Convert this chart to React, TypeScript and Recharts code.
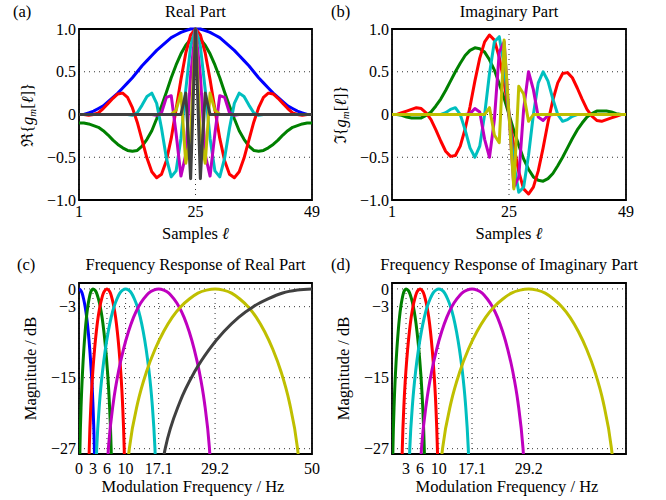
import React from 'react';
import { LineChart, Line, XAxis, YAxis, CartesianGrid, ReferenceArea } from 'recharts';

const FONT = '"Liberation Serif", "Times New Roman", "DejaVu Serif", serif';

// ---------- time-domain data (samples 1..49) ----------
const samples = [1, 2, 3, 4, 5, 6, 7, 8, 9, 10, 11, 12, 13, 14, 15, 16, 17, 18, 19, 20, 21, 22, 23, 24, 25,
  26, 27, 28, 29, 30, 31, 32, 33, 34, 35, 36, 37, 38, 39, 40, 41, 42, 43, 44, 45, 46, 47, 48, 49];
const sampleTicks = [1, 25, 49];
const timeTicks = [-1, -0.5, 0, 0.5, 1];

const blueRe = [0, 0, 0.02, 0.04, 0.07, 0.1, 0.15, 0.2, 0.25, 0.31, 0.37, 0.43, 0.5, 0.57, 0.63, 0.69, 0.75, 0.8, 0.85, 0.9, 0.93, 0.96, 0.98, 1,
  1,
  1, 0.98, 0.96, 0.93, 0.9, 0.85, 0.8, 0.75, 0.69, 0.63, 0.57, 0.5, 0.43, 0.37, 0.31, 0.25, 0.2, 0.15, 0.1, 0.07, 0.04, 0.02, 0, 0];
const greenRe = [-0.1, -0.1, -0.11, -0.13, -0.15, -0.19, -0.24, -0.3, -0.35, -0.39, -0.42, -0.43, -0.42, -0.37, -0.29, -0.19, -0.05, 0.1, 0.26, 0.43, 0.58, 0.71, 0.81, 0.88,
  0.9,
  0.88, 0.81, 0.71, 0.58, 0.43, 0.26, 0.1, -0.05, -0.19, -0.29, -0.37, -0.42, -0.43, -0.42, -0.39, -0.35, -0.3, -0.24, -0.19, -0.15, -0.13, -0.11, -0.1, -0.1];
const redRe = [0, 0, -0.01, 0, 0.02, 0.07, 0.13, 0.19, 0.24, 0.25, 0.2, 0.08, -0.09, -0.3, -0.51, -0.67, -0.74, -0.7, -0.54, -0.28, 0.06, 0.41, 0.72, 0.93,
  1,
  0.93, 0.72, 0.41, 0.06, -0.28, -0.54, -0.7, -0.74, -0.67, -0.51, -0.3, -0.09, 0.08, 0.2, 0.25, 0.24, 0.19, 0.13, 0.07, 0.02, 0, -0.01, 0, 0];
const cyanRe = [0, 0, 0, 0, 0, 0, 0, 0, 0, 0, 0, -0.01, 0.02, 0.11, 0.21, 0.25, 0.13, -0.16, -0.51, -0.73, -0.66, -0.28, 0.29, 0.8,
  1,
  0.8, 0.29, -0.28, -0.66, -0.73, -0.51, -0.16, 0.13, 0.25, 0.21, 0.11, 0.02, -0.01, 0, 0, 0, 0, 0, 0, 0, 0, 0, 0, 0];
const magentaRe = [0, 0, 0, 0, 0, 0, 0, 0, 0, 0, 0, 0, 0, 0, 0, 0, -0.01, 0.02, 0.2, 0.22, -0.22, -0.72, -0.47, 0.46,
  1,
  0.46, -0.47, -0.72, -0.22, 0.22, 0.2, 0.02, -0.01, 0, 0, 0, 0, 0, 0, 0, 0, 0, 0, 0, 0, 0, 0, 0, 0];
const yellowRe = [0, 0, 0, 0, 0, 0, 0, 0, 0, 0, 0, 0, 0, 0, 0, 0, 0, 0, 0, 0, 0.05, 0.25, -0.57, -0.24,
  1,
  -0.24, -0.57, 0.25, 0.05, 0, 0, 0, 0, 0, 0, 0, 0, 0, 0, 0, 0, 0, 0, 0, 0, 0, 0, 0, 0];
const grayRe = [0, 0, 0, 0, 0, 0, 0, 0, 0, 0, 0, 0, 0, 0, 0, 0, 0, 0, 0, 0, 0, 0, 0.25, -0.75,
  1,
  -0.75, 0.25, 0, 0, 0, 0, 0, 0, 0, 0, 0, 0, 0, 0, 0, 0, 0, 0, 0, 0, 0, 0, 0, 0];

const greenIm = [0, 0, -0.01, -0.03, -0.04, -0.04, -0.04, -0.01, 0.03, 0.1, 0.18, 0.28, 0.39, 0.5, 0.6, 0.69, 0.75, 0.78, 0.77, 0.73, 0.64, 0.52, 0.36, 0.19,
  0,
  -0.19, -0.36, -0.52, -0.64, -0.73, -0.77, -0.78, -0.75, -0.69, -0.6, -0.5, -0.39, -0.28, -0.18, -0.1, -0.03, 0.01, 0.04, 0.04, 0.04, 0.03, 0.01, 0, 0];
const redIm = [0, 0, 0.02, 0.04, 0.06, 0.08, 0.07, 0.02, -0.06, -0.18, -0.31, -0.43, -0.49, -0.48, -0.37, -0.17, 0.09, 0.39, 0.66, 0.85, 0.93, 0.87, 0.67, 0.37,
  0,
  -0.37, -0.67, -0.87, -0.93, -0.85, -0.66, -0.39, -0.09, 0.17, 0.37, 0.48, 0.49, 0.43, 0.31, 0.18, 0.06, -0.02, -0.07, -0.08, -0.06, -0.04, -0.02, 0, 0];
const cyanIm = [0, 0, 0, 0, 0, 0, 0, 0, 0, 0, 0, 0.02, 0.06, 0.08, 0, -0.18, -0.39, -0.5, -0.37, 0, 0.48, 0.85, 0.91, 0.58,
  0,
  -0.58, -0.91, -0.85, -0.48, 0, 0.37, 0.5, 0.39, 0.18, 0, -0.08, -0.06, -0.02, 0, 0, 0, 0, 0, 0, 0, 0, 0, 0, 0];
const magentaIm = [0, 0, 0, 0, 0, 0, 0, 0, 0, 0, 0, 0, 0, 0, 0, 0, 0.01, 0.07, 0.03, -0.29, -0.5, -0.06, 0.73, 0.85,
  0,
  -0.85, -0.73, 0.06, 0.5, 0.29, -0.03, -0.07, -0.01, 0, 0, 0, 0, 0, 0, 0, 0, 0, 0, 0, 0, 0, 0, 0, 0];
const yellowIm = [0, 0, 0, 0, 0, 0, 0, 0, 0, 0, 0, 0, 0, 0, 0, 0, 0, 0, 0, 0, 0.08, -0.24, -0.33, 0.87,
  0,
  -0.87, 0.33, 0.24, -0.08, 0, 0, 0, 0, 0, 0, 0, 0, 0, 0, 0, 0, 0, 0, 0, 0, 0, 0, 0, 0];

// ---------- frequency responses ----------
const freqTicksRe = [0, 3, 6, 10, 17.1, 29.2, 50];
const freqTicksIm = [3, 6, 10, 17.1, 29.2];
const dbTicks = [-27, -15, -3, 0];
// magnitude levels (dB) read along each lobe: rising flank, peak, falling flank
const dbLevels = [-34, -27, -19.1, -14, -10.2, -7.2, -4.8, -3, -1.7, -0.7, -0.2, 0,
  -0.2, -0.7, -1.7, -3, -4.8, -7.2, -10.2, -14, -19.1, -27, -34];
const blueF = [0, 0.33, 0.66, 0.99, 1.32, 1.65, 1.98, 2.31, 2.64, 2.97, 3.3, 3.47];
const greenF = [0.06, 0.2, 0.48, 0.76, 1.04, 1.32, 1.6, 1.88, 2.16, 2.44, 2.72, 3, 3.39, 3.78, 4.17, 4.56, 4.95, 5.34, 5.73, 6.12, 6.51, 6.9, 7.1];
const redF = [2.01, 2.2, 2.58, 2.96, 3.34, 3.72, 4.1, 4.48, 4.86, 5.24, 5.62, 6, 6.37, 6.74, 7.11, 7.48, 7.85, 8.22, 8.59, 8.96, 9.33, 9.7, 9.89];
const cyanF = [3.49, 3.8, 4.42, 5.04, 5.66, 6.28, 6.9, 7.52, 8.14, 8.76, 9.38, 10, 10.63, 11.26, 11.89, 12.52, 13.15, 13.78, 14.41, 15.04, 15.67, 16.3, 16.62];
const magentaF = [5.76, 6.3, 7.38, 8.46, 9.54, 10.62, 11.7, 12.78, 13.86, 14.94, 16.02, 17.1, 18.19, 19.28, 20.37, 21.46, 22.55, 23.64, 24.73, 25.82, 26.91, 28, 28.55];
const yellowF = [9.88, 10.8, 12.64, 14.48, 16.32, 18.16, 20, 21.84, 23.68, 25.52, 27.36, 29.2, 30.97, 32.74, 34.51, 36.28, 38.05, 39.82, 41.59, 43.36, 45.13, 46.9, 47.79];
const grayF = [16.93, 18.5, 21.65, 24.8, 27.95, 31.1, 34.25, 37.4, 40.55, 43.7, 46.85, 50];

const COLORS: Record<string, string> = {
  blue: '#0000ff', green: '#008000', red: '#ff0000', cyan: '#00bfbf',
  magenta: '#bf00bf', yellow: '#bfbf00', gray: '#404040',
};

const rowsRe = samples.map((n, i) => ({
  n, blue: blueRe[i], green: greenRe[i], red: redRe[i], cyan: cyanRe[i],
  magenta: magentaRe[i], yellow: yellowRe[i], gray: grayRe[i],
}));
const rowsIm = samples.map((n, i) => ({
  n, green: greenIm[i], red: redIm[i], cyan: cyanIm[i], magenta: magentaIm[i], yellow: yellowIm[i],
}));

const mk = (fs: number[], lv: number[]) => fs.map((f, i) => ({ f, db: lv[i] }));
const respRe = [
  { key: 'blue', data: mk(blueF, dbLevels.slice(11)) },
  { key: 'green', data: mk(greenF, dbLevels) },
  { key: 'red', data: mk(redF, dbLevels) },
  { key: 'cyan', data: mk(cyanF, dbLevels) },
  { key: 'magenta', data: mk(magentaF, dbLevels) },
  { key: 'yellow', data: mk(yellowF, dbLevels) },
  { key: 'gray', data: mk(grayF, dbLevels.slice(0, 12)) },
];
const respIm = respRe.filter(r => r.key !== 'blue' && r.key !== 'gray');

const tick = { fontFamily: FONT, fontSize: 16, fill: '#000' };
const minus = (s: string) => s.replace('-', '\u2212');
const fmt1 = (v: number) => (v === 0 ? '0' : minus(v.toFixed(1)));
const fmt0 = (v: number) => minus(String(v));

type M = { top: number; right: number; bottom: number; left: number };

function TimePanel({ rows, keys, margin }: { rows: any[]; keys: string[]; margin: M }) {
  return (
    <LineChart width={333} height={250} data={rows} margin={margin}>
      <CartesianGrid stroke="#333" strokeDasharray="1 4" />
      <XAxis dataKey="n" type="number" domain={[1, 49]} ticks={sampleTicks} tickFormatter={fmt0}
        axisLine={false} tickLine={false} tickSize={0} tickMargin={6} height={30} tick={tick} interval={0} />
      <YAxis type="number" domain={[-1, 1]} ticks={timeTicks} tickFormatter={fmt1}
        axisLine={false} tickLine={false} tickSize={0} tickMargin={3} width={50} tick={tick} interval={0} />
      {keys.map(k => (
        <Line key={k} dataKey={k} type="linear" stroke={COLORS[k]} strokeWidth={3} dot={false}
          activeDot={false} isAnimationActive={false} strokeLinejoin="round" />
      ))}
      <ReferenceArea x1={1} x2={49} y1={-1} y2={1} fill="none" stroke="#000" strokeWidth={1.8} />
    </LineChart>
  );
}

function FreqPanel({ series, ticks, margin }: { series: { key: string; data: any[] }[]; ticks: number[]; margin: M }) {
  return (
    <LineChart width={333} height={250} margin={margin}>
      <CartesianGrid stroke="#333" strokeDasharray="1 4" />
      <XAxis dataKey="f" type="number" domain={[0, 50]} ticks={ticks} tickFormatter={fmt0} allowDataOverflow
        axisLine={false} tickLine={false} tickSize={0} tickMargin={9} height={30} tick={tick} interval={0} />
      <YAxis type="number" domain={[-27.9, 1]} ticks={dbTicks} tickFormatter={fmt0} allowDataOverflow
        axisLine={false} tickLine={false} tickSize={0} tickMargin={3} width={50} tick={tick} interval={0} />
      {series.map(s => (
        <Line key={s.key} data={s.data} dataKey="db" type="monotone" stroke={COLORS[s.key]} strokeWidth={3}
          dot={false} activeDot={false} isAnimationActive={false} strokeLinejoin="round" />
      ))}
      <ReferenceArea x1={0} x2={50} y1={-27.9} y2={1} fill="none" stroke="#000" strokeWidth={1.8} />
    </LineChart>
  );
}

const abs = (left: number, top: number): React.CSSProperties => ({ position: 'absolute', left, top });

export default function App() {
  return (
    <div style={{ position: 'absolute', left: 0, top: 0, width: 666, height: 500, background: '#fff' }}>
      <div style={abs(0, 0)}>
        <TimePanel rows={rowsRe} keys={['blue', 'green', 'red', 'cyan', 'magenta', 'yellow', 'gray']}
          margin={{ top: 29, right: 21, bottom: 20, left: 29 }} />
      </div>
      <div style={abs(333, 0)}>
        <TimePanel rows={rowsIm} keys={['green', 'red', 'cyan', 'magenta', 'yellow']}
          margin={{ top: 29, right: 40, bottom: 20, left: 9 }} />
      </div>
      <div style={abs(0, 250)}>
        <FreqPanel series={respRe} ticks={freqTicksRe} margin={{ top: 33, right: 21, bottom: 16, left: 29 }} />
      </div>
      <div style={abs(333, 250)}>
        <FreqPanel series={respIm} ticks={freqTicksIm} margin={{ top: 33, right: 40, bottom: 16, left: 9 }} />
      </div>
      <svg width={666} height={500} style={{ position: 'absolute', left: 0, top: 0, pointerEvents: 'none' }}
        fontFamily={FONT} fontSize={16.5} fill="#000">
        <text x={13} y={17}>(a)</text>
        <text x={195.5} y={17} textAnchor="middle">Real Part</text>
        <text x={331} y={17}>(b)</text>
        <text x={509} y={17} textAnchor="middle">Imaginary Part</text>
        <text x={17} y={270}>(c)</text>
        <text x={195.5} y={270} textAnchor="middle">Frequency Response of Real Part</text>
        <text x={331} y={270}>(d)</text>
        <text x={509} y={270} textAnchor="middle">Frequency Response of Imaginary Part</text>

        <text x={195.5} y={238.5} textAnchor="middle">Samples <tspan fontStyle="italic">ℓ</tspan></text>
        <text x={509} y={238.5} textAnchor="middle">Samples <tspan fontStyle="italic">ℓ</tspan></text>
        <text x={193} y={491.5} textAnchor="middle">Modulation Frequency / Hz</text>
        <text x={507} y={491.5} textAnchor="middle">Modulation Frequency / Hz</text>

        <text transform="translate(33,115) rotate(-90)" textAnchor="middle">
          ℜ{'{'}<tspan fontStyle="italic">g</tspan><tspan fontStyle="italic" fontSize={11} dy={3}>m</tspan><tspan dy={-3}>[</tspan><tspan fontStyle="italic">ℓ</tspan>]{'}'}
        </text>
        <text transform="translate(346,115) rotate(-90)" textAnchor="middle">
          ℑ{'{'}<tspan fontStyle="italic">g</tspan><tspan fontStyle="italic" fontSize={11} dy={3}>m</tspan><tspan dy={-3}>[</tspan><tspan fontStyle="italic">ℓ</tspan>]{'}'}
        </text>
        <text transform="translate(36,368.5) rotate(-90)" textAnchor="middle">Magnitude / dB</text>
        <text transform="translate(349,368.5) rotate(-90)" textAnchor="middle">Magnitude / dB</text>
      </svg>
    </div>
  );
}
